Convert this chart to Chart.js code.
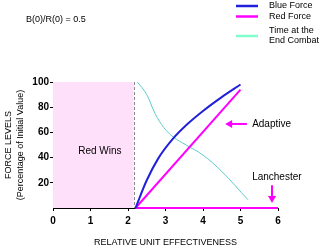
<!DOCTYPE html>
<html>
<head>
<meta charset="utf-8">
<script src="https://cdn.jsdelivr.net/npm/chart.js@4"></script>
<style>
  html, body { margin: 0; padding: 0; background: #fff; }
  #wrap { width: 322px; height: 252px; }
</style>
</head>
<body>
<div id="wrap"><canvas id="chart"></canvas></div>
<script>
// Force levels vs relative unit effectiveness
const blueX = [2.2, 2.5, 2.8, 3.2, 3.6, 4.0, 4.5, 5.0];
const blueY = [0, 22, 39, 55, 67, 77, 88, 98];
const redX = [2.2, 5.0];
const redY = [0, 94];
const lanchesterX = [2.2, 6];
const lanchesterY = [0, 0];
const timeX = [2.25, 2.5, 2.72, 2.95, 3.2, 3.55, 4.0, 4.5, 5.2];
const timeY = [100, 90, 75, 64, 56.5, 50, 42, 29, 6.5];
const redWinsLimit = 2.15;
const xTicks = [0, 1, 2, 3, 4, 5, 6];
const yTicks = [20, 40, 60, 80, 100];

const BLUE = "#2020dc";
const MAGENTA = "#ff00ff";
const CYAN = "#5ccccc";
const FONT = "'Liberation Sans', Arial, sans-serif";

const pts = (xs, ys) => xs.map((x, i) => ({ x, y: ys[i] }));

// pink "Red Wins" area + dashed limit line
const regionPlugin = {
  id: "region",
  beforeDatasetsDraw(chart) {
    const { ctx, scales: { x, y } } = chart;
    const x0 = x.getPixelForValue(0), x1 = x.getPixelForValue(redWinsLimit);
    const yTop = y.getPixelForValue(100), yBot = y.getPixelForValue(0);
    ctx.save();
    ctx.fillStyle = "#ffe0fa";
    ctx.fillRect(x0, yTop, x1 - x0, yBot - yTop);
    ctx.strokeStyle = "#888";
    ctx.lineWidth = 1;
    ctx.setLineDash([3, 2]);
    ctx.beginPath();
    ctx.moveTo(Math.round(x1) + 0.5, yTop);
    ctx.lineTo(Math.round(x1) + 0.5, yBot);
    ctx.stroke();
    ctx.restore();
  }
};

// texts, arrows and legend
const notesPlugin = {
  id: "notes",
  afterDraw(chart) {
    const { ctx, scales: { x, y } } = chart;
    ctx.save();
    ctx.fillStyle = "#000";
    ctx.font = "9px " + FONT;
    ctx.textBaseline = "middle";
    ctx.textAlign = "left";
    ctx.fillText("B(0)/R(0) = 0.5", 26, 20);

    ctx.font = "10px " + FONT;
    ctx.textAlign = "center";
    ctx.fillText("Red Wins", x.getPixelForValue(1.25), y.getPixelForValue(45));

    ctx.textAlign = "left";
    ctx.fillText("Adaptive", x.getPixelForValue(5.31), y.getPixelForValue(66.7));
    ctx.fillText("Lanchester", x.getPixelForValue(5.31), y.getPixelForValue(24.6));

    // arrows
    ctx.strokeStyle = MAGENTA;
    ctx.fillStyle = MAGENTA;
    ctx.lineWidth = 2;
    let ay = y.getPixelForValue(66.7);
    let ax0 = x.getPixelForValue(5.17), ax1 = x.getPixelForValue(4.59);
    ctx.beginPath();
    ctx.moveTo(ax0, ay);
    ctx.lineTo(ax1 + 5, ay);
    ctx.stroke();
    ctx.beginPath();
    ctx.moveTo(ax1, ay);
    ctx.lineTo(ax1 + 7, ay - 4);
    ctx.lineTo(ax1 + 7, ay + 4);
    ctx.closePath();
    ctx.fill();

    let bx = x.getPixelForValue(5.84);
    let by0 = y.getPixelForValue(18), by1 = y.getPixelForValue(4);
    ctx.beginPath();
    ctx.moveTo(bx, by0);
    ctx.lineTo(bx, by1 - 5);
    ctx.stroke();
    ctx.beginPath();
    ctx.moveTo(bx, by1);
    ctx.lineTo(bx - 4, by1 - 7);
    ctx.lineTo(bx + 4, by1 - 7);
    ctx.closePath();
    ctx.fill();

    // legend
    const items = [
      { color: BLUE, lines: ["Blue Force"], y: 6 },
      { color: MAGENTA, lines: ["Red Force"], y: 16.5 },
      { color: "#80ffcc", lines: ["Time at the", "End Combat"], y: 36 }
    ];
    ctx.font = "9px " + FONT;
    ctx.textAlign = "left";
    items.forEach(it => {
      ctx.strokeStyle = it.color;
      ctx.lineWidth = 2.5;
      ctx.beginPath();
      ctx.moveTo(236, it.y);
      ctx.lineTo(258, it.y);
      ctx.stroke();
      ctx.fillStyle = "#000";
      const top = it.y - (it.lines.length - 1) * 5;
      it.lines.forEach((t, i) => ctx.fillText(t, 269, top + i * 10));
    });
    ctx.restore();
  }
};

new Chart(document.getElementById("chart"), {
  type: "line",
  data: {
    datasets: [
      { label: "Blue Force", data: pts(blueX, blueY), borderColor: BLUE, borderWidth: 2, cubicInterpolationMode: "monotone", clip: false },
      { label: "Red Force", data: pts(redX, redY), borderColor: MAGENTA, borderWidth: 2, clip: false },
      { label: "Red Force (Lanchester)", data: pts(lanchesterX, lanchesterY), borderColor: MAGENTA, borderWidth: 2, clip: false },
      { label: "Time at the End Combat", data: pts(timeX, timeY), borderColor: CYAN, borderWidth: 1, cubicInterpolationMode: "monotone", clip: false }
    ]
  },
  options: {
    responsive: true,
    maintainAspectRatio: false,
    animation: false,
    elements: { point: { radius: 0 } },
    layout: { padding: { top: 82, right: 44, left: 0, bottom: 0 } },
    plugins: { legend: { display: false }, tooltip: { enabled: false } },
    scales: {
      x: {
        type: "linear",
        min: 0,
        max: 6,
        afterBuildTicks: s => { s.ticks = xTicks.map(v => ({ value: v })); },
        afterFit: s => { s.height = 44; },
        ticks: { color: "#000", font: { family: FONT, size: 10, weight: "bold" }, padding: 4, maxRotation: 0 },
        grid: { display: true, drawOnChartArea: false, drawTicks: true, tickLength: 3, color: "#000" },
        border: { display: true, color: "#000" },
        title: { display: true, text: "RELATIVE UNIT EFFECTIVENESS", color: "#000", font: { family: FONT, size: 9, lineHeight: 1.333 }, padding: { top: 0, bottom: 3 } }
      },
      y: {
        min: 0,
        max: 100,
        afterBuildTicks: s => { s.ticks = yTicks.map(v => ({ value: v })); },
        afterFit: s => { s.width = 53; },
        ticks: { color: "#000", font: { family: FONT, size: 10, weight: "bold" }, padding: 1 },
        grid: { display: true, drawOnChartArea: false, drawTicks: true, tickLength: 3, color: "#000" },
        border: { display: true, color: "#000" },
        title: { display: true, text: ["FORCE LEVELS", "(Percentage of Initial Value)"], color: "#000", font: { family: FONT, size: 9, lineHeight: 1.333 }, padding: { top: 3, bottom: 0 } }
      }
    }
  },
  plugins: [regionPlugin, notesPlugin]
});
</script>
</body>
</html>
